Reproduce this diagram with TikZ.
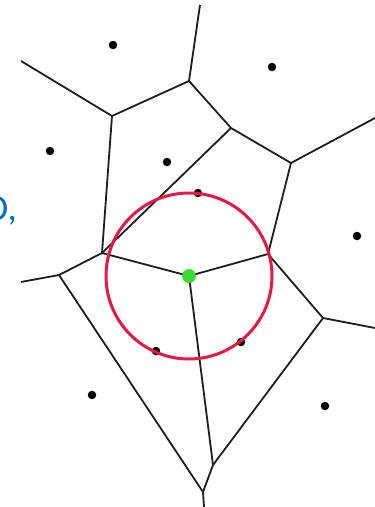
\documentclass[tikz,border=0pt]{standalone}
\usepackage{fontspec}
\newfontfamily\labelfont{Carlito}
\definecolor{edgeblack}{RGB}{30,30,30}
\definecolor{circred}{RGB}{232,24,64}
\definecolor{sitegreen}{RGB}{60,220,50}
\definecolor{textblue}{RGB}{0,112,192}
\begin{document}
\begin{tikzpicture}[x=1pt,y=-1pt,
  edge/.style={draw=edgeblack,line width=1.8pt,line join=round},
  site/.style={circle,fill=black,inner sep=0pt,minimum size=8.5pt},
  vtx/.style={coordinate}]
\useasboundingbox[fill=white] (0,0) rectangle (375,507);
% Voronoi vertices
\coordinate (T) at (200,5);
\coordinate (V1) at (189,81);
\coordinate (L1) at (21,61);
\coordinate (V2) at (112,116);
\coordinate (V3) at (231,128);
\coordinate (V4) at (291,163);
\coordinate (R1) at (375,118);
\coordinate (V5) at (102,253);
\coordinate (V6) at (59,275);
\coordinate (L2) at (21,282);
\coordinate (G) at (189,276);
\coordinate (V7) at (268,254);
\coordinate (V8) at (323,318);
\coordinate (R2) at (375,328);
\coordinate (V9) at (213,465);
\coordinate (V10) at (203,492);
\coordinate (B) at (204,507);
% edges
\draw[edge] (T) -- (V1);
\draw[edge] (L1) -- (V2);
\draw[edge] (V2) -- (V1);
\draw[edge] (V1) -- (V3);
\draw[edge] (V3) -- (V4);
\draw[edge] (V4) -- (R1);
\draw[edge] (V3) -- (V5);
\draw[edge] (V2) -- (V5);
\draw[edge] (V5) -- (V6);
\draw[edge] (V6) -- (L2);
\draw[edge] (V5) -- (G);
\draw[edge] (G) -- (V7);
\draw[edge] (V7) -- (V4);
\draw[edge] (V7) -- (V8);
\draw[edge] (V8) -- (R2);
\draw[edge] (V8) -- (V9);
\draw[edge] (G) -- (V9);
\draw[edge] (V6) -- (V10);
\draw[edge] (V10) -- (V9);
\draw[edge] (V10) -- (B);
% sites
\node[site] (s1) at (113,45) {};
\node[site] (s2) at (272,67) {};
\node[site] (s3) at (50,151) {};
\node[site] (s4) at (167,162) {};
\node[site] (s5) at (198,193) {};
\node[site] (s6) at (357,236) {};
\node[site] (s7) at (156,351) {};
\node[site] (s8) at (241,342) {};
\node[site] (s9) at (92,395) {};
\node[site] (s10) at (325,406) {};
% empty circle
\draw[circred,line width=3pt] (G) circle[radius=83];
\node[circle,fill=sitegreen,inner sep=0pt,minimum size=14pt] (g) at (G) {};
% cropped label
\node[anchor=base east,inner sep=0pt,text=textblue,font=\labelfont\fontsize{37}{40}\selectfont] (lbl) at (17,220) {O,};
\end{tikzpicture}
\end{document}
